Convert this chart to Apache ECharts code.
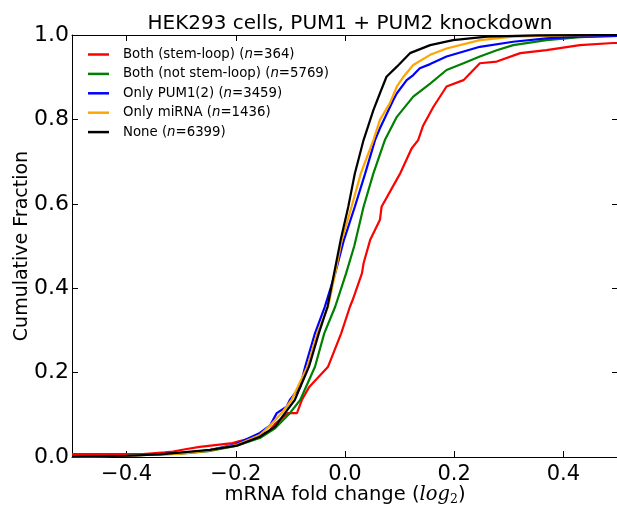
<!DOCTYPE html>
<html><head><meta charset="utf-8">
<script src="https://cdn.jsdelivr.net/npm/echarts@6/dist/echarts.min.js"></script>
<style>html,body{margin:0;padding:0;background:#fff}#c{width:617px;height:506px}</style>
</head><body><div id="c"></div>
<script>
// Series data: x = mRNA fold change (log2), y = cumulative fraction
const redX = [-0.5,-0.37,-0.33,-0.315,-0.29,-0.266,-0.206,-0.193,-0.17,-0.14,-0.127,-0.105,-0.088,-0.079,-0.066,-0.031,-0.007,0.009,0.014,0.031,0.034,0.046,0.064,0.067,0.098,0.101,0.122,0.134,0.143,0.162,0.186,0.217,0.247,0.278,0.321,0.369,0.43,0.491,0.5];
const redY = [0.007,0.007,0.011,0.013,0.019,0.024,0.033,0.038,0.045,0.06,0.08,0.104,0.104,0.135,0.165,0.214,0.293,0.356,0.372,0.435,0.459,0.514,0.562,0.593,0.665,0.672,0.731,0.751,0.785,0.83,0.878,0.893,0.933,0.937,0.957,0.964,0.976,0.981,0.981];

const greenX = [-0.5,-0.4,-0.3,-0.25,-0.2,-0.156,-0.128,-0.101,-0.082,-0.055,-0.038,-0.018,0.002,0.017,0.034,0.052,0.073,0.095,0.125,0.156,0.186,0.217,0.247,0.278,0.308,0.369,0.43,0.5];
const greenY = [0.001,0.003,0.008,0.014,0.026,0.045,0.068,0.104,0.135,0.214,0.293,0.356,0.435,0.5,0.593,0.672,0.751,0.806,0.854,0.885,0.917,0.933,0.949,0.964,0.976,0.988,0.995,0.998];

const blueX = [-0.5,-0.4,-0.3,-0.25,-0.2,-0.156,-0.137,-0.125,-0.107,-0.101,-0.082,-0.073,-0.055,-0.037,-0.018,-0.002,0.018,0.037,0.055,0.064,0.088,0.095,0.113,0.125,0.137,0.156,0.186,0.247,0.308,0.369,0.43,0.5];
const blueY = [0.001,0.003,0.009,0.016,0.03,0.057,0.075,0.104,0.119,0.135,0.167,0.214,0.293,0.356,0.435,0.514,0.593,0.672,0.751,0.779,0.845,0.862,0.893,0.905,0.921,0.931,0.949,0.972,0.984,0.992,0.996,0.998];

const orangeX = [-0.5,-0.4,-0.3,-0.25,-0.2,-0.156,-0.137,-0.116,-0.098,-0.069,-0.051,-0.031,-0.018,-0.006,0.012,0.029,0.052,0.064,0.082,0.095,0.107,0.125,0.156,0.186,0.247,0.308,0.4,0.5];
const orangeY = [0.001,0.003,0.008,0.015,0.028,0.052,0.075,0.104,0.135,0.214,0.293,0.356,0.435,0.514,0.593,0.672,0.751,0.799,0.838,0.878,0.901,0.929,0.953,0.968,0.988,0.996,0.999,1.0];

const blackX = [-0.5,-0.4,-0.339,-0.247,-0.198,-0.156,-0.128,-0.11,-0.092,-0.066,-0.048,-0.032,-0.02,-0.008,0.006,0.018,0.034,0.052,0.064,0.076,0.095,0.119,0.156,0.198,0.26,0.35,0.5];
const blackY = [0.001,0.003,0.006,0.017,0.027,0.048,0.072,0.104,0.135,0.214,0.293,0.356,0.435,0.514,0.593,0.672,0.751,0.822,0.862,0.901,0.925,0.957,0.976,0.988,0.996,0.999,1.0];

const seriesNames = ['Both (stem-loop)','Both (not stem-loop)','Only PUM1(2)','Only miRNA','None'];
const seriesN = [364,5769,3459,1436,6399];
const seriesColors = ['#ff0000','#008000','#0000ff','#ffa500','#000000'];
const seriesXs = [redX, greenX, blueX, orangeX, blackX];
const seriesYs = [redY, greenY, blueY, orangeY, blackY];

const xTicks = [-0.4,-0.2,0,0.2,0.4];

const FONT = 'DejaVu Sans';
const fmtX = v => (v < 0 ? '\u2212' : '') + Math.abs(v).toFixed(1);

const chart = echarts.init(document.getElementById('c'), null, {renderer:'canvas'});

const series = seriesNames.map((name, i) => ({
  name: name,
  type: 'line',
  showSymbol: false,
  symbol: 'none',
  animation: false,
  data: seriesXs[i].map((x, k) => [x, seriesYs[i][k]]),
  lineStyle: {color: seriesColors[i], width: 2.2},
  itemStyle: {color: seriesColors[i]},
  clip: true,
  z: 2 + i
}));

const axisCommonX = {
  type: 'value', min: -0.5, max: 0.5,
  axisLine: {show: true, onZero: false, lineStyle: {color: '#000', width: 1}},
  splitLine: {show: false}
};
const axisCommonY = {
  type: 'value', min: 0, max: 1, interval: 0.2,
  axisLine: {show: true, onZero: false, lineStyle: {color: '#000', width: 1}},
  splitLine: {show: false}
};

chart.setOption({
  animation: false,
  backgroundColor: '#fff',
  title: {
    text: 'HEK293 cells, PUM1 + PUM2 knockdown',
    left: 345, top: 9, textAlign: 'center',
    textStyle: {fontFamily: FONT, fontSize: 20, fontWeight: 'normal', color: '#000'}
  },
  grid: {left: 72, right: -1, top: 35, bottom: 49, containLabel: false, outerBoundsMode: 'none'},
  legend: {
    orient: 'vertical', left: 88, top: 48, padding: 0,
    itemWidth: 21, itemHeight: 2.5, itemGap: 6.4,
    icon: 'rect',
    data: seriesNames,
    formatter: name => {
      const i = seriesNames.indexOf(name);
      return '{t|' + name + ' (}{i|n}{t|=' + seriesN[i] + ')}';
    },
    textStyle: {
      fontFamily: FONT, fontSize: 13.3, color: '#000', padding: [0,0,0,9],
      rich: {
        t: {fontFamily: FONT, fontSize: 13.3, color: '#000'},
        i: {fontFamily: FONT, fontSize: 13.3, fontStyle: 'italic', color: '#000'}
      }
    }
  },
  xAxis: [
    Object.assign({}, axisCommonX, {
      position: 'bottom',
      name: 'mRNA fold change ({l|log}{s|2})',
      nameLocation: 'middle', nameGap: 27, nameMoveOverlap: false,
      nameTextStyle: {
        fontFamily: FONT, fontSize: 19.5, color: '#000',
        rich: {
          l: {fontFamily: 'DejaVu Serif', fontStyle: 'italic', fontSize: 19.5, color: '#000'},
          s: {fontFamily: 'DejaVu Serif', fontSize: 12.5, color: '#000', padding: [9,0,0,0]}
        }
      },
      axisTick: {show: true, inside: true, length: 6, customValues: xTicks, lineStyle: {color: '#000'}},
      axisLabel: {show: true, customValues: xTicks, formatter: fmtX, fontFamily: FONT, fontSize: 21, color: '#000', margin: 7}
    }),
    Object.assign({}, axisCommonX, {
      position: 'top',
      axisTick: {show: true, inside: true, length: 6, customValues: xTicks, lineStyle: {color: '#000'}},
      axisLabel: {show: false}
    })
  ],
  yAxis: [
    Object.assign({}, axisCommonY, {
      position: 'left',
      name: 'Cumulative Fraction', nameLocation: 'middle', nameGap: 40, nameMoveOverlap: false,
      nameTextStyle: {fontFamily: FONT, fontSize: 19, color: '#000'},
      axisTick: {show: true, inside: true, length: 6, lineStyle: {color: '#000'}},
      axisLabel: {show: true, formatter: v => v.toFixed(1), fontFamily: FONT, fontSize: 22, color: '#000', margin: 3}
    }),
    Object.assign({}, axisCommonY, {
      position: 'right',
      axisTick: {show: true, inside: true, length: 6, lineStyle: {color: '#000'}},
      axisLabel: {show: false}
    })
  ],
  series: series
});
</script>
</body></html>
